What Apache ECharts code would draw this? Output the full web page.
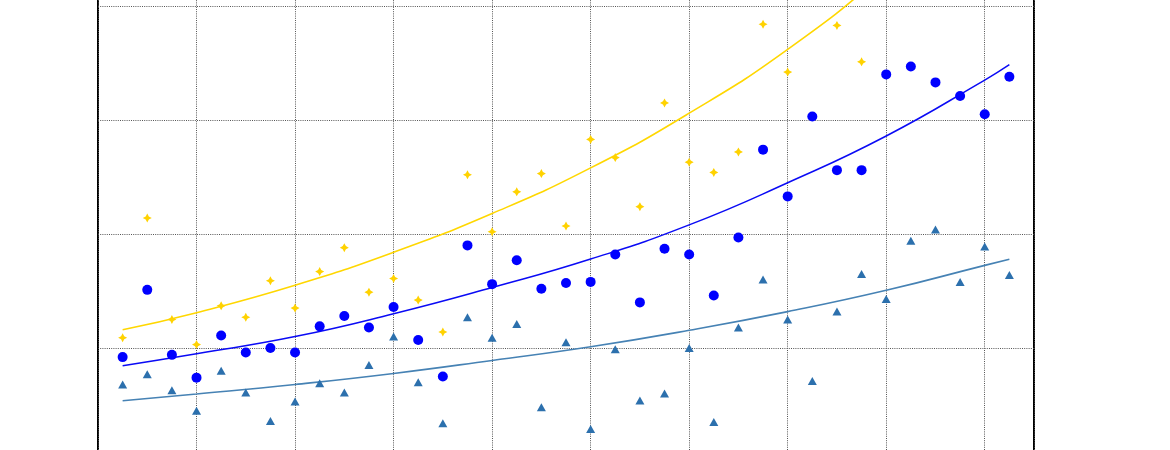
<!DOCTYPE html>
<html>
<head>
<meta charset="utf-8">
<script src="https://cdn.jsdelivr.net/npm/echarts@6/dist/echarts.min.js"></script>
<style>
  html, body { margin: 0; padding: 0; background: #fff; overflow: hidden; }
  /* the plot runs past the top and bottom of the picture */
  #chart { position: absolute; left: 0; top: -222px; width: 1170px; height: 684px; }
</style>
</head>
<body>
<div id="chart"></div>
<script>
// x positions of the samples
const xValues = [1, 2, 3, 4, 5, 6, 7, 8, 9, 10, 11, 12, 13, 14, 15, 16, 17, 18, 19,
  20, 21, 22, 23, 24, 25, 26, 27, 28, 29, 30, 31, 32, 33, 34, 35, 36, 37];

// yellow stars (some sit above the visible area)
const yellowPts = [10.9, 21.4, 12.5, 10.3, 13.7, 12.7, 15.9, 13.5, 16.7, 18.8, 14.9, 16.1, 14.2,
  11.4, 25.2, 20.2, 23.7, 25.3, 20.7, 28.3, 26.7, 22.4, 31.5, 26.3, 25.4, 27.2, 38.4, 34.2,
  42.0, 38.3, 35.1, 45.5, 43.6, 49.1, 47.0, 53.5, 51.2];

// blue circles
const bluePts = [9.2, 15.1, 9.4, 7.4, 11.1, 9.6, 10.0, 9.6, 11.9, 12.8, 11.8, 13.6, 10.7,
  7.5, 19.0, 15.6, 17.7, 15.2, 15.7, 15.8, 18.2, 14.0, 18.7, 18.2, 14.6, 19.7, 27.4, 23.3,
  30.3, 25.6, 25.6, 34.0, 34.7, 33.3, 32.1, 30.5, 33.8];

// steel blue triangles
const trianglePts = [6.8, 7.7, 6.3, 4.5, 8.0, 6.1, 3.6, 5.3, 6.9, 6.1, 8.5, 11.0, 7.0,
  3.4, 12.7, 10.9, 12.1, 4.8, 10.5, 2.9, 9.9, 5.4, 6.0, 10.0, 3.5, 11.8, 16.0, 12.5,
  7.1, 13.2, 16.5, 14.3, 19.4, 20.4, 15.8, 18.9, 16.4];

// fitted curves at a few x positions
const trendX = [1, 4, 8, 12, 16, 20, 24, 28, 32, 36, 37];
const trendYellow = [11.6, 13.1, 15.5, 18.4, 21.8, 25.8, 30.6, 36.2, 43.0, 50.9, 53.0];
const trendBlue = [8.45, 9.5, 11.0, 13.0, 15.3, 17.8, 20.8, 24.5, 28.6, 33.5, 34.85];
const trendSteel = [5.37, 5.96, 6.8, 7.77, 8.91, 10.11, 11.55, 13.19, 15.06, 17.25, 17.78];

const pair = (xs, ys) => xs.map((x, i) => [x, ys[i]]);

const starPath = 'path://M0,-10 L3.5,-3.5 L10,0 L3.5,3.5 L0,10 L-3.5,3.5 L-10,0 L-3.5,-3.5 Z';

const chart = echarts.init(document.getElementById('chart'));

const option = {
  animation: false,
  grid: {
    left: 98,
    right: 136,
    top: 0,
    bottom: 0,
    show: true,
    borderColor: '#000',
    borderWidth: 2,
    backgroundColor: 'transparent'
  },
  xAxis: {
    type: 'value',
    min: 0,
    max: 38,
    interval: 4,
    axisLine: { show: false },
    axisTick: { show: false },
    axisLabel: { show: false },
    splitLine: {
      show: true,
      lineStyle: { color: '#555', width: 1, type: [1, 1.2] }
    }
  },
  yAxis: {
    type: 'value',
    min: 0,
    max: 60,
    interval: 10,
    axisLine: { show: false },
    axisTick: { show: false },
    axisLabel: { show: false },
    splitLine: {
      show: true,
      lineStyle: { color: '#555', width: 1, type: [1, 1.2] }
    }
  },
  series: [
    {
      type: 'line',
      data: pair(trendX, trendYellow),
      smooth: true,
      showSymbol: false,
      lineStyle: { color: '#FFD700', width: 1.6 },
      z: 3
    },
    {
      type: 'line',
      data: pair(trendX, trendBlue),
      smooth: true,
      showSymbol: false,
      lineStyle: { color: '#0A0AF5', width: 1.5 },
      z: 3
    },
    {
      type: 'line',
      data: pair(trendX, trendSteel),
      smooth: true,
      showSymbol: false,
      lineStyle: { color: '#4682B4', width: 1.6 },
      z: 3
    },
    {
      type: 'scatter',
      data: pair(xValues, yellowPts),
      symbol: starPath,
      symbolSize: 9,
      itemStyle: { color: '#FFD200', opacity: 1 },
      z: 4
    },
    {
      type: 'scatter',
      data: pair(xValues, bluePts),
      symbol: 'circle',
      symbolSize: 10,
      itemStyle: { color: '#0000FF', opacity: 1 },
      z: 4
    },
    {
      type: 'scatter',
      data: pair(xValues, trianglePts),
      symbol: 'triangle',
      symbolSize: [9, 8],
      itemStyle: { color: '#2C70AD', opacity: 1 },
      z: 4
    }
  ]
};

chart.setOption(option);
</script>
</body>
</html>
